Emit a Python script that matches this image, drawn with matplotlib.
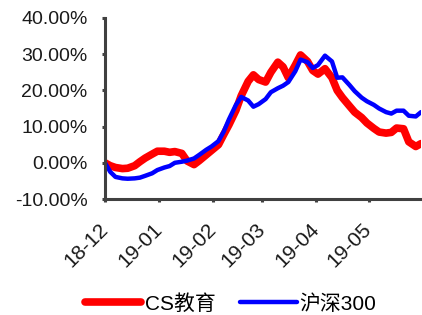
import numpy as np
import pandas as pd
import matplotlib
matplotlib.use('Agg')
import matplotlib.pyplot as plt
import matplotlib.dates as mdates
from matplotlib.ticker import FuncFormatter

plt.rcParams['font.family'] = ['Liberation Sans', 'Noto Sans CJK SC', 'DejaVu Sans']

# Données (rendement cumulé, en %)
dates = ['2018-12-01', '2018-12-04', '2018-12-07', '2018-12-11', '2018-12-14',
         '2018-12-18', '2018-12-21', '2018-12-24', '2018-12-28', '2018-12-31',
         '2019-01-04', '2019-01-07', '2019-01-10', '2019-01-14', '2019-01-17',
         '2019-01-21', '2019-01-24', '2019-01-28', '2019-01-31', '2019-02-04',
         '2019-02-07', '2019-02-10', '2019-02-14', '2019-02-17', '2019-02-21',
         '2019-02-24', '2019-02-27', '2019-03-03', '2019-03-06', '2019-03-10',
         '2019-03-13', '2019-03-16', '2019-03-20', '2019-03-23', '2019-03-27',
         '2019-03-30', '2019-04-02', '2019-04-06', '2019-04-10', '2019-04-13',
         '2019-04-16', '2019-04-20', '2019-04-23', '2019-04-27', '2019-04-30',
         '2019-05-04', '2019-05-07', '2019-05-11', '2019-05-14', '2019-05-17',
         '2019-05-21', '2019-05-24', '2019-05-28', '2019-05-31']

cs_edu = [0.0, -0.8, -1.3, -1.6, -1.5, -0.8, 0.3, 1.3, 2.4, 3.2,
          3.2, 2.9, 3.1, 2.6, 0.5, -0.5, 0.6, 2.2, 3.4, 5.0,
          7.8, 10.5, 14.5, 18.5, 22.5, 24.3, 23.0, 22.3, 25.0, 27.8,
          26.5, 23.5, 27.0, 29.8, 28.0, 25.5, 24.5, 26.0, 23.5, 20.0,
          18.0, 15.7, 14.0, 12.5, 11.0, 9.5, 8.5, 8.2, 8.4, 9.6,
          9.4, 5.8, 4.5, 5.3]

hs300 = [0.0, -2.5, -3.9, -4.3, -4.4, -4.3, -4.1, -3.6, -2.9, -2.0,
         -1.3, -0.9, 0.0, 0.3, 0.6, 1.2, 2.2, 3.6, 4.5, 6.0,
         8.6, 12.0, 16.0, 18.2, 17.2, 15.5, 16.2, 17.6, 19.5, 20.6,
         21.3, 22.3, 25.3, 28.5, 27.8, 26.2, 27.0, 29.6, 28.0, 23.5,
         23.6, 21.5, 19.8, 18.0, 17.0, 16.0, 15.0, 14.0, 13.6, 14.4,
         14.4, 13.0, 12.8, 14.0]

series_names = ['CS教育', '沪深300']

x = pd.to_datetime(dates)

fig = plt.figure(figsize=(4.22, 3.15), dpi=100)
ax = fig.add_axes([105/422, 1 - 199/315, (421 - 105)/422, (199 - 18)/315])

ax.plot(x, cs_edu, color='#ff0000', linewidth=5.5, solid_capstyle='round',
        label=series_names[0])
ax.plot(x, hs300, color='#0000ff', linewidth=3.2, solid_capstyle='round',
        label=series_names[1])

ax.set_ylim(-10, 40)
ax.set_yticks(np.arange(-10, 41, 10))
ax.yaxis.set_major_formatter(FuncFormatter(lambda v, p: '%.2f%%' % v))
ax.set_xlim(pd.Timestamp('2018-12-01'), pd.Timestamp('2019-05-31'))
ax.xaxis.set_major_locator(mdates.MonthLocator())
ax.xaxis.set_major_formatter(mdates.DateFormatter('%y-%m'))

for s in ['top', 'right']:
    ax.spines[s].set_visible(False)
for s in ['left', 'bottom']:
    ax.spines[s].set_color('#404040')
    ax.spines[s].set_linewidth(2.2)
ax.tick_params(axis='both', direction='out', length=2.5, width=2.2,
               color='#404040', labelsize=14, labelcolor='#1a1a1a')
ax.tick_params(axis='y', pad=10)
ax.tick_params(axis='x', pad=17, labelsize=15)
plt.setp(ax.get_xticklabels(), rotation=45, ha='right', va='center',
         rotation_mode='anchor')

fig.legend(loc='center', ncol=2, frameon=False, fontsize=15,
           bbox_to_anchor=(0.547, 0.036), handlelength=2.7, columnspacing=1.2,
           handletextpad=0.15, borderpad=0)

fig.savefig('out.png', dpi=100)
